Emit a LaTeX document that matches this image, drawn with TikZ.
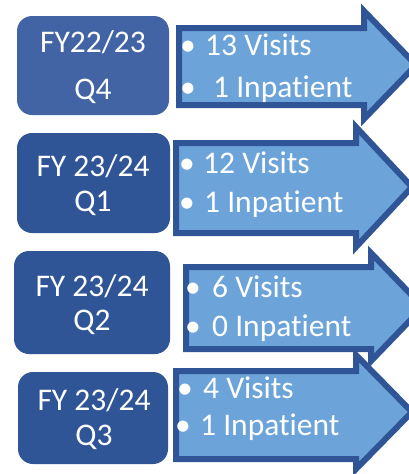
\documentclass[tikz,border=0pt]{standalone}
\usepackage{fontspec}
\setmainfont{Carlito}[Ligatures={NoCommon}]
\usepackage{tikz}

\definecolor{boxblue}{RGB}{47,85,151}
\definecolor{boxlight}{RGB}{66,100,164}
\definecolor{arrowfill}{RGB}{108,164,218}
\definecolor{arrowline}{RGB}{47,85,151}

\begin{document}
\begin{tikzpicture}[x=1pt, y=-1pt,
        quarter/.style={fill=boxblue, rounded corners=15pt},
        arrowshape/.style={fill=arrowfill, draw=arrowline, line width=6pt, line join=miter},
        label/.style={text=white, font=\fontsize{31.5}{36}\selectfont, inner sep=0pt}]
        \useasboundingbox (0,0) rectangle (409,474);

        % Row 1
        \fill[quarter, fill=boxlight] (17,16) rectangle (169,115);
        \node[label, anchor=base] (yearA) at (93,52) {FY22/23};
        \node[label, anchor=base] (quarterA) at (93,99) {Q4};
        \draw[arrowshape] (179,28) -- (364,28) -- (364,11) -- (416,65)
            -- (364,119) -- (364,105) -- (179,105) -- cycle;
        \node[label, anchor=base] (dotA1) at (188,55) {•};
        \node[label, anchor=base west] (visitsA) at (205,55) {13 Visits};
        \node[label, anchor=base] (dotA2) at (188,97) {•};
        \node[label, anchor=base west] (inpatA) at (213,97) {1 Inpatient};

        % Row 2
        \fill[quarter] (17,133) rectangle (170,233);
        \node[label, anchor=base] (yearB) at (93,176) {FY 23/24};
        \node[label, anchor=base] (quarterB) at (93,211) {Q1};
        \draw[arrowshape] (176,143) -- (356,143) -- (356,127) -- (412,187)
            -- (356,247) -- (356,233) -- (176,233) -- cycle;
        \node[label, anchor=base] (dotB1) at (187,173) {•};
        \node[label, anchor=base west] (visitsB) at (203,173) {12 Visits};
        \node[label, anchor=base] (dotB2) at (187,212) {•};
        \node[label, anchor=base west] (inpatB) at (204,212) {1 Inpatient};

        % Row 3
        \fill[quarter] (14,251) rectangle (170,354);
        \node[label, anchor=base] (yearC) at (92,296) {FY 23/24};
        \node[label, anchor=base] (quarterC) at (92,330) {Q2};
        \draw[arrowshape] (186,267) -- (371,267) -- (371,253) -- (423,307)
            -- (371,361) -- (371,349) -- (186,349) -- cycle;
        \node[label, anchor=base] (dotC1) at (193,297) {•};
        \node[label, anchor=base west] (visitsC) at (212,297) {6 Visits};
        \node[label, anchor=base] (dotC2) at (193,336) {•};
        \node[label, anchor=base west] (inpatC) at (212,336) {0 Inpatient};

        % Row 4
        \fill[quarter] (18,372) rectangle (168,464);
        \node[label, anchor=base] (yearD) at (94,410) {FY 23/24};
        \node[label, anchor=base] (quarterD) at (94,445) {Q3};
        \draw[arrowshape] (176,371) -- (356,371) -- (356,355) -- (412,412)
            -- (356,469) -- (356,459) -- (176,459) -- cycle;
        \node[label, anchor=base] (dotD1) at (185,398) {•};
        \node[label, anchor=base west] (visitsD) at (203,398) {4 Visits};
        \node[label, anchor=base] (dotD2) at (183,435) {•};
        \node[label, anchor=base west] (inpatD) at (200,435) {1 Inpatient};
\end{tikzpicture}
\end{document}
